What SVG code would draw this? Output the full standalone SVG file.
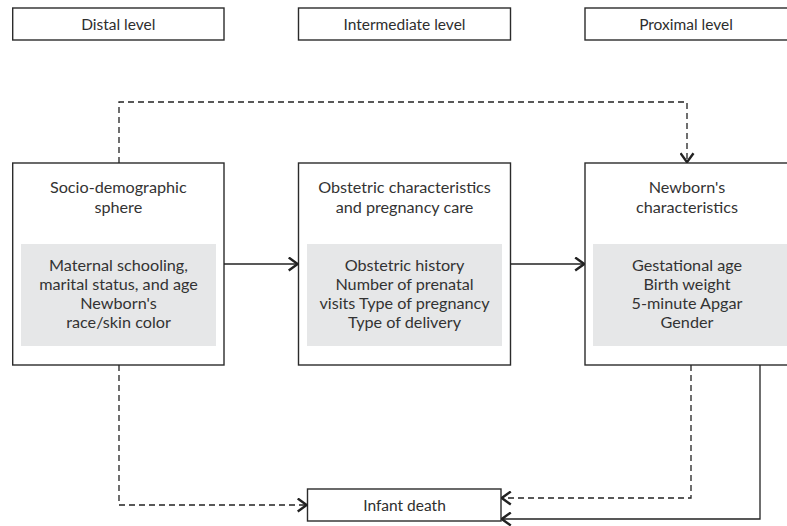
<svg xmlns="http://www.w3.org/2000/svg" width="787" height="526" viewBox="0 0 787 526">
<style>
  .box { fill: #ffffff; stroke: #2b2b2b; stroke-width: 1.4; }
  .inner { fill: #e6e7e8; stroke: none; }
  text { font-family: Lato, "Open Sans", "Liberation Sans", sans-serif; fill: #333333; text-anchor: middle; }
  .lvl { font-size: 15.5px; fill: #2e2e2e; }
  .t { font-size: 16.2px; }
  .conn { fill: none; stroke: #222222; stroke-width: 1.3; }
  .dash { stroke-dasharray: 6 4; }
</style>
<defs>
  <marker id="arr" viewBox="0 0 11 15" refX="10.3" refY="7.5" markerWidth="11" markerHeight="15" markerUnits="userSpaceOnUse" orient="auto">
    <path d="M1,1 L10,7.5 L1,14" fill="none" stroke="#222222" stroke-width="2.4"/>
  </marker>
</defs>

<g id="distal-level">
  <rect class="box" x="12.7" y="8" width="211.3" height="32"/>
  <text class="lvl" x="118.3" y="29.5">Distal level</text>
</g>
<g id="intermediate-level">
  <rect class="box" x="298.5" y="8" width="212" height="32"/>
  <text class="lvl" x="404.5" y="29.5">Intermediate level</text>
</g>
<g id="proximal-level">
  <rect class="box" x="585" y="8" width="210" height="32"/>
  <text class="lvl" x="686" y="29.5">Proximal level</text>
</g>

<g id="socio-demographic">
  <rect class="box" x="12.7" y="163" width="211.3" height="202"/>
  <text class="t" x="118.3" y="193">Socio-demographic</text>
  <text class="t" x="118.3" y="212.5">sphere</text>
  <rect class="inner" x="21" y="244" width="195" height="102"/>
  <text class="t" x="118.5" y="271">Maternal schooling,</text>
  <text class="t" x="118.5" y="290">marital status, and age</text>
  <text class="t" x="118.5" y="309">Newborn's</text>
  <text class="t" x="118.5" y="328">race/skin color</text>
</g>

<g id="obstetric">
  <rect class="box" x="298.5" y="163" width="212" height="202"/>
  <text class="t" x="404.5" y="193">Obstetric characteristics</text>
  <text class="t" x="404.5" y="212.5">and pregnancy care</text>
  <rect class="inner" x="307" y="244" width="195" height="102"/>
  <text class="t" x="404.5" y="271">Obstetric history</text>
  <text class="t" x="404.5" y="290">Number of prenatal</text>
  <text class="t" x="404.5" y="309">visits Type of pregnancy</text>
  <text class="t" x="404.5" y="328">Type of delivery</text>
</g>

<g id="newborn">
  <rect class="box" x="585" y="163" width="210" height="202"/>
  <text class="t" x="687" y="193">Newborn's</text>
  <text class="t" x="687" y="212.5">characteristics</text>
  <rect class="inner" x="593" y="244" width="194" height="102"/>
  <text class="t" x="687" y="271">Gestational age</text>
  <text class="t" x="687" y="290">Birth weight</text>
  <text class="t" x="687" y="309">5-minute Apgar</text>
  <text class="t" x="687" y="328">Gender</text>
</g>

<g id="infant-death">
  <rect class="box" x="307.5" y="489" width="193.5" height="32"/>
  <text class="lvl" x="404.5" y="510.5">Infant death</text>
</g>

<g id="connectors">
  <path class="conn" d="M224,264 H298" marker-end="url(#arr)"/>
  <path class="conn" d="M510.5,264 H584.5" marker-end="url(#arr)"/>
  <path class="conn dash" d="M119,163 V102 H687 V162.5" marker-end="url(#arr)"/>
  <path class="conn dash" d="M119,365 V505 H307" marker-end="url(#arr)"/>
  <path class="conn dash" d="M691,365 V498 H501.5" marker-end="url(#arr)"/>
  <path class="conn" d="M760,365 V519 H501.5" marker-end="url(#arr)"/>
</g>
</svg>
